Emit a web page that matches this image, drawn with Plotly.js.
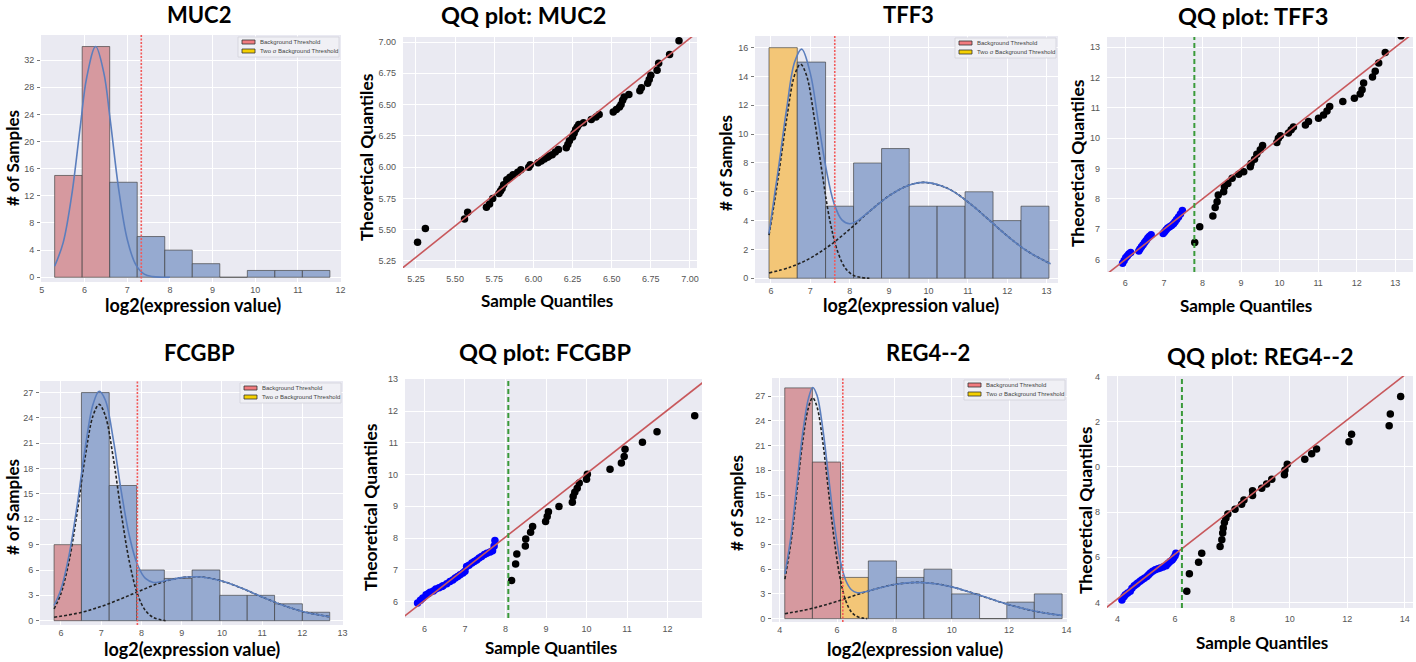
<!DOCTYPE html>
<html><head><meta charset="utf-8">
<script src="https://cdn.plot.ly/plotly-3.0.1.min.js"></script>
<style>html,body{margin:0;padding:0;background:#fff}#chart{width:1416px;height:662px}</style>
</head><body><div id="chart"></div>
<script>
// ---------------- DATA ----------------
// MUC2 histogram
const mucEdges=[5.30,5.945,6.59,7.235,7.88,8.525,9.17,9.815,10.46,11.105,11.75];
const mucCounts=[15,34,14,6,4,2,0,1,1,1];
const mucBins=['bg','bg','other','other','other','other','other','other','other','other'];
const mucThreshold=7.33;
const mucFitX=[5.30,5.5,5.7,5.9,6.05,6.26,6.45,6.6,6.8,7.0,7.2,7.4,7.6,7.8,8.0];
const mucFitY=[1.64,5.1,12.1,22.2,29.4,34.0,30.2,23.3,13.0,5.6,1.87,0.47,0.09,0.01,0.0];
// MUC2 QQ
const mucQQx=[5.26,5.31,5.56,5.58,5.70,5.72,5.74,5.78,5.79,5.80,5.81,5.83,5.85,5.87,5.90,5.92,5.97,5.98,6.03,6.05,6.07,6.09,6.10,6.12,6.14,6.16,6.21,6.22,6.23,6.25,6.26,6.27,6.28,6.29,6.32,6.37,6.40,6.42,6.51,6.53,6.55,6.56,6.57,6.58,6.61,6.68,6.69,6.73,6.74,6.75,6.79,6.80,6.87,6.93];
const mucQQy=[5.40,5.51,5.585,5.64,5.68,5.705,5.75,5.79,5.81,5.83,5.86,5.90,5.92,5.94,5.96,5.98,6.00,6.02,6.035,6.05,6.065,6.08,6.09,6.10,6.12,6.14,6.155,6.18,6.21,6.24,6.27,6.30,6.32,6.34,6.355,6.38,6.40,6.42,6.44,6.46,6.48,6.50,6.535,6.56,6.58,6.61,6.635,6.67,6.70,6.735,6.775,6.83,6.90,7.01];
const mucLineX=[5.1,7.1], mucLineY=[5.13,7.13];

// TFF3 histogram
const tffEdges=[5.95,6.668,7.387,8.098,8.809,9.511,10.22,10.93,11.64,12.35,13.06];
const tffCounts=[16,15,5,8,9,5,5,6,4,5];
const tffBins=['two','other','other','other','other','other','other','other','other','other'];
const tffThreshold=7.62;
const tffFitX=[5.95,6.1,6.2,6.4,6.6,6.78,7.0,7.2,7.4,7.6,7.8,8.0,8.2,8.5,9.0,9.5,9.9,10.5,11.0,11.5,12.0,12.5,13.1];
const tffFitY=[3.1,5.96,7.83,11.8,15.0,15.9,14.2,10.9,7.6,5.2,4.05,3.78,4.0,4.64,5.72,6.45,6.65,6.22,5.3,4.14,2.94,1.9,1.0];
const tffComp1X=[5.95,6.1,6.2,6.4,6.6,6.75,6.9,7.1,7.3,7.5,7.7,7.9,8.1,8.3,8.5];
const tffComp1Y=[3.0,5.5,7.3,11.1,14.1,14.85,14.1,11.1,7.3,3.95,1.8,0.66,0.2,0.05,0.0];
const tffComp2X=[5.95,6.5,7.0,7.5,8.0,8.5,9.0,9.5,9.9,10.5,11.0,11.5,12.0,12.5,13.1];
const tffComp2Y=[0.37,0.78,1.4,2.29,3.4,4.63,5.72,6.45,6.65,6.22,5.3,4.14,2.94,1.9,1.0];
// TFF3 QQ
const tffBlueX=[5.93,5.97,6.01,6.05,6.09,6.14,6.35,6.38,6.42,6.46,6.50,6.54,6.58,6.62,6.67,6.98,7.02,7.06,7.10,7.15,7.20,7.25,7.29,7.33,7.38,7.43,7.48];
const tffBlueY=[5.88,5.97,6.06,6.12,6.18,6.23,6.28,6.35,6.42,6.49,6.56,6.63,6.70,6.76,6.82,6.86,6.92,6.98,7.04,7.08,7.12,7.18,7.25,7.32,7.40,7.50,7.62];
const tffBlackX=[7.80,7.93,8.27,8.33,8.38,8.41,8.55,8.57,8.66,8.77,8.94,9.07,9.24,9.26,9.35,9.41,9.50,9.56,9.93,9.97,10.02,10.23,10.30,10.36,10.67,10.75,11.01,11.14,11.23,11.30,11.64,11.94,12.09,12.14,12.18,12.41,12.48,12.57,12.74,13.15];
const tffBlackY=[6.56,7.08,7.44,7.72,7.91,8.13,8.24,8.40,8.51,8.68,8.81,8.90,9.06,9.17,9.31,9.47,9.62,9.76,9.86,10.00,10.08,10.17,10.28,10.37,10.44,10.55,10.66,10.77,10.90,11.05,11.21,11.32,11.46,11.60,11.82,12.02,12.21,12.48,12.83,13.38];
const tffLineX=[5.5,13.5], tffLineY=[5.5,13.5];
const tffQThreshold=7.79;

// FCGBP histogram
const fcgEdges=[5.83,6.51,7.20,7.88,8.57,9.26,9.95,10.63,11.31,12.0,12.68];
const fcgCounts=[9,27,16,6,5,6,3,3,2,1];
const fcgBins=['bg','other','other','other','other','other','other','other','other','other'];
const fcgThreshold=7.90;
const fcgFitX=[5.83,6.0,6.2,6.4,6.6,6.8,6.95,7.1,7.3,7.5,7.7,7.9,8.1,8.3,8.5,9.0,9.3,9.5,10.0,10.5,11.0,11.5,12.0,12.68];
const fcgFitY=[1.8,3.7,7.7,13.55,20.35,25.65,27.15,26.15,21.5,15.3,10.05,6.65,5.0,4.53,4.64,5.1,5.2,5.18,4.69,3.83,2.81,1.86,1.1,0.46];
const fcgComp1X=[5.83,6.0,6.2,6.4,6.6,6.8,6.95,7.1,7.3,7.5,7.7,7.9,8.1,8.3,8.6];
const fcgComp1Y=[1.4,3.2,7.0,12.7,19.3,24.3,25.6,24.3,19.3,12.7,7.0,3.2,1.2,0.38,0.0];
const fcgComp2X=[5.83,6.5,7.0,7.5,8.0,8.5,9.0,9.3,9.5,10.0,10.5,11.0,11.5,12.0,12.68];
const fcgComp2Y=[0.4,0.98,1.69,2.6,3.6,4.54,5.1,5.2,5.18,4.69,3.83,2.81,1.86,1.1,0.46];
// FCGBP QQ
const fcgBlueX=[5.83,5.90,5.96,6.04,6.10,6.14,6.22,6.28,6.36,6.43,6.46,6.55,6.63,6.70,6.76,6.82,6.88,6.95,7.00,7.04,7.10,7.17,7.23,7.29,7.35,7.41,7.48,7.54,7.62,7.68,7.72,7.74];
const fcgBlueY=[5.95,6.04,6.11,6.21,6.25,6.29,6.33,6.39,6.43,6.47,6.50,6.56,6.63,6.68,6.74,6.79,6.84,6.90,6.95,7.10,7.14,7.21,7.26,7.31,7.37,7.42,7.48,7.52,7.56,7.60,7.75,7.92];
const fcgBlackX=[8.15,8.25,8.28,8.49,8.50,8.62,8.67,8.99,9.03,9.06,9.32,9.65,9.67,9.71,9.77,9.82,10.00,10.02,10.58,10.86,10.93,10.95,11.38,11.74,12.67];
const fcgBlackY=[6.66,7.18,7.50,7.75,7.97,8.18,8.36,8.52,8.68,8.83,8.99,9.13,9.31,9.44,9.57,9.73,9.85,10.01,10.17,10.36,10.57,10.80,11.02,11.35,11.85];
const fcgLineX=[5.4,13.0], fcgLineY=[5.43,13.03];
const fcgQThreshold=8.07;

// REG4--2 histogram
const regEdges=[4.175,5.14,6.12,7.09,8.07,9.03,10.0,10.97,11.92,12.88,13.85];
const regCounts=[28,19,5,7,5,6,3,0,2,3];
const regBins=['bg','bg','two','other','other','other','other','other','other','other'];
const regThreshold=6.20;
const regFitX=[4.18,4.4,4.6,4.8,5.0,5.15,5.3,5.5,5.7,5.9,6.1,6.3,6.5,6.7,6.9,7.5,8.0,8.8,9.5,10.0,10.5,11.0,11.5,12.0,12.5,13.0,13.5,13.85];
const regFitY=[5.4,10.2,16.35,22.5,26.7,28.05,27.1,23.1,17.3,11.6,7.2,4.65,3.5,3.15,3.2,3.75,4.14,4.4,4.2,3.85,3.36,2.8,2.22,1.68,1.22,0.84,0.55,0.4];
const regComp1X=[4.18,4.4,4.6,4.8,5.0,5.15,5.3,5.5,5.7,5.9,6.1,6.3,6.5,6.7,6.9,7.05];
const regComp1Y=[4.8,9.5,15.5,21.5,25.6,26.8,25.7,21.5,15.5,9.6,5.0,2.2,0.8,0.25,0.06,0.0];
const regComp2X=[4.18,5.0,5.5,6.0,6.5,7.0,7.5,8.0,8.8,9.5,10.0,10.5,11.0,11.5,12.0,12.5,13.0,13.5,13.85];
const regComp2Y=[0.6,1.13,1.58,2.1,2.68,3.25,3.75,4.14,4.4,4.2,3.85,3.36,2.8,2.22,1.68,1.22,0.84,0.55,0.4];
// REG4--2 QQ
const regBlueX=[4.15,4.22,4.27,4.35,4.44,4.50,4.58,4.65,4.70,4.78,4.85,4.93,5.02,5.08,5.14,5.22,5.31,5.40,5.48,5.58,5.69,5.76,5.83,5.90,5.95,6.00,6.03];
const regBlueY=[4.10,4.25,4.34,4.42,4.49,4.62,4.74,4.80,4.86,4.93,5.00,5.07,5.15,5.22,5.30,5.38,5.45,5.49,5.52,5.57,5.62,5.72,5.81,5.88,5.96,6.06,6.18];
const regBlackX=[6.41,6.50,6.82,6.93,7.57,7.63,7.66,7.68,7.72,7.77,7.84,8.09,8.32,8.40,8.70,8.70,9.02,9.19,9.37,9.81,9.83,9.91,10.52,10.76,10.93,12.06,12.15,13.46,13.50,13.86];
const regBlackY=[4.49,5.27,5.78,6.18,6.48,6.77,7.07,7.29,7.54,7.73,7.92,8.13,8.35,8.54,8.73,8.94,9.06,9.24,9.46,9.65,9.87,10.12,10.34,10.58,10.80,11.12,11.45,11.83,12.35,13.12];
const regLineX=[3.5,14.3], regLineY=[3.66,14.37];
const regQThreshold=6.24;
const regQYTickVals=[4,6,8,10,12,14];
const regQYTickText=['4','6','8','0','2','4'];

const legendLabels=['Background Threshold','Two \u03c3 Background Threshold'];

// ---------------- LAYOUT HELPERS ----------------
const W=1416,H=662;
const fx=p=>p/W, fy=p=>1-p/H;
const boxes={
  muc:{l:41,r:341,t:35,b:282}, mucQ:{l:403,r:697,t:37,b:268},
  tff:{l:755,r:1058,t:36,b:283}, tffQ:{l:1107,r:1413,t:37,b:272},
  fcg:{l:40,r:343,t:381,b:625}, fcgQ:{l:405,r:702,t:379,b:618},
  reg:{l:772,r:1067,t:378,b:622}, regQ:{l:1107,r:1413,t:376,b:608}
};
const tickFont={family:'Liberation Sans, Arial, sans-serif',size:9,color:'#555'};
const layout={width:W,height:H,margin:{l:0,r:0,t:0,b:0},paper_bgcolor:'#ffffff',plot_bgcolor:'#EAEAF2',
  barmode:'overlay',showlegend:false,shapes:[],annotations:[]};
const traces=[];

function setAxes(n,key,xr,yr,xopt,yopt,hist){
  const b=boxes[key], s=n===1?'':String(n);
  layout['xaxis'+s]=Object.assign({domain:[fx(b.l),fx(b.r)],range:xr,anchor:'y'+s,showgrid:true,gridcolor:'#ffffff',gridwidth:1,
    zeroline:false,showline:false,tickfont:tickFont,ticks:'',ticklabelstandoff:hist?1:4,fixedrange:true},xopt);
  layout['yaxis'+s]=Object.assign({domain:[fy(b.b),fy(b.t)],range:yr,anchor:'x'+s,showgrid:true,gridcolor:'#ffffff',gridwidth:1,
    zeroline:false,showline:false,tickfont:tickFont,fixedrange:true,
    ticks:hist?'outside':'',ticklen:3,tickcolor:'#777',ticklabelstandoff:hist?1:6},yopt);
}
const binColors={bg:'#D6999F',two:'#F3C677',other:'#96AAD0'};
function hist(n,edges,counts,classes,thr,fitX,fitY,c1x,c1y,c2x,c2y){
  const s=n===1?'':String(n);
  ['bg','two','other'].forEach(c=>{
    const xs=[],ys=[],ws=[];
    counts.forEach((v,i)=>{ if(classes[i]===c){xs.push(edges[i]);ys.push(v);ws.push(edges[i+1]-edges[i]);} });
    if(xs.length) traces.push({type:'bar',x:xs,y:ys,width:ws,offset:0,xaxis:'x'+s,yaxis:'y'+s,
      marker:{color:binColors[c],line:{color:'rgba(60,60,60,0.65)',width:1}},hoverinfo:'skip'});
  });
  const dash={color:'#222',width:1.6,dash:'3px,2px',shape:'spline',smoothing:1};
  if(c2x) traces.push({type:'scatter',mode:'lines',x:c2x,y:c2y,xaxis:'x'+s,yaxis:'y'+s,line:dash,hoverinfo:'skip'});
  if(c1x) traces.push({type:'scatter',mode:'lines',x:c1x,y:c1y,xaxis:'x'+s,yaxis:'y'+s,line:dash,hoverinfo:'skip'});
  traces.push({type:'scatter',mode:'lines',x:fitX,y:fitY,xaxis:'x'+s,yaxis:'y'+s,
    line:{color:'#5B7EBD',width:1.6,shape:'spline',smoothing:1},hoverinfo:'skip'});
  layout.shapes.push({type:'line',xref:'x'+s,yref:'y'+s+' domain',x0:thr,x1:thr,y0:0,y1:1,
    line:{color:'#F25A5A',width:1.6,dash:'2px,1.5px'}});
}
function qq(n,bx,by,kx,ky,lx,ly,thr){
  const s=n===1?'':String(n);
  traces.push({type:'scatter',mode:'markers',x:kx,y:ky,xaxis:'x'+s,yaxis:'y'+s,marker:{color:'#000',size:7.5},hoverinfo:'skip'});
  if(bx) traces.push({type:'scatter',mode:'markers',x:bx,y:by,xaxis:'x'+s,yaxis:'y'+s,marker:{color:'#0000FF',size:7.5},hoverinfo:'skip'});
  traces.push({type:'scatter',mode:'lines',x:lx,y:ly,xaxis:'x'+s,yaxis:'y'+s,line:{color:'#C8585C',width:1.6},hoverinfo:'skip'});
  if(thr!==undefined) layout.shapes.push({type:'line',xref:'x'+s,yref:'y'+s+' domain',x0:thr,x1:thr,y0:0,y1:1,
    line:{color:'#3A9A3A',width:2,dash:'5px,3px'}});
}
function legendBox(key){
  const b=boxes[key];
  layout.shapes.push({type:'rect',xref:'paper',yref:'paper',x0:fx(b.r-103),x1:fx(b.r-2),y0:fy(b.t+22),y1:fy(b.t+2),
    fillcolor:'#F0F0F5',line:{color:'#D2D2DA',width:0.8}});
  const patch=[['#F27B7F',7],['#F5D000',16]];
  patch.forEach((p,i)=>{
    layout.shapes.push({type:'rect',xref:'paper',yref:'paper',x0:fx(b.r-99),x1:fx(b.r-86),y0:fy(b.t+p[1]+2),y1:fy(b.t+p[1]-2),
      fillcolor:p[0],line:{color:'#333',width:0.8}});
    layout.annotations.push({xref:'paper',yref:'paper',x:fx(b.r-83),y:fy(b.t+p[1]),text:legendLabels[i],showarrow:false,
      xanchor:'left',yanchor:'middle',font:{family:'Liberation Sans, Arial, sans-serif',size:6,color:'#444'}});
  });
}
const fam='Lato, "Open Sans", sans-serif';
const geneTitleFont={family:fam,size:22,color:'#000',weight:'bold'};
const qqTitleFont={family:fam,size:23.5,color:'#000',weight:'bold'};
const axTitleFont={family:fam,size:17,color:'#000',weight:'bold'};
const qyTitleFont={family:fam,size:17.5,color:'#000',weight:'bold'};
const histXTitleFont={family:fam,size:18,color:'#000',weight:'bold'};
function txt(t,x,y,font,angle){
  layout.annotations.push({xref:'paper',yref:'paper',x:fx(x),y:fy(y),text:'<b>'+t+'</b>',showarrow:false,
    xanchor:'center',yanchor:'middle',font:font,textangle:angle||0});
}

// ---------------- BUILD ----------------
setAxes(1,'muc',[4.98,12.01],[-0.7,35.7],{tick0:5,dtick:1},{tick0:0,dtick:4},true);
hist(1,mucEdges,mucCounts,mucBins,mucThreshold,mucFitX,mucFitY);
setAxes(2,'mucQ',[5.167,7.045],[5.194,7.04],{tick0:5.25,dtick:0.25,tickformat:'.2f'},{tick0:5.25,dtick:0.25,tickformat:'.2f'},false);
qq(2,null,null,mucQQx,mucQQy,mucLineX,mucLineY);
setAxes(3,'tff',[5.594,13.29],[-0.33,16.81],{tick0:6,dtick:1},{tick0:0,dtick:2},true);
hist(3,tffEdges,tffCounts,tffBins,tffThreshold,tffFitX,tffFitY,tffComp1X,tffComp1Y,tffComp2X,tffComp2Y);
setAxes(4,'tffQ',[5.525,13.46],[5.59,13.34],{tick0:6,dtick:1},{tick0:6,dtick:1},false);
qq(4,tffBlueX,tffBlueY,tffBlackX,tffBlackY,tffLineX,tffLineY,tffQThreshold);
setAxes(5,'fcg',[5.48,13.01],[-0.51,28.37],{tick0:6,dtick:1},{tick0:0,dtick:3},true);
hist(5,fcgEdges,fcgCounts,fcgBins,fcgThreshold,fcgFitX,fcgFitY,fcgComp1X,fcgComp1Y,fcgComp2X,fcgComp2Y);
setAxes(6,'fcgQ',[5.52,12.85],[5.48,13.01],{tick0:6,dtick:1},{tick0:6,dtick:1},false);
qq(6,fcgBlueX,fcgBlueY,fcgBlackX,fcgBlackY,fcgLineX,fcgLineY,fcgQThreshold);
setAxes(7,'reg',[3.73,14.02],[-0.41,29.2],{tick0:4,dtick:2},{tick0:0,dtick:3},true);
hist(7,regEdges,regCounts,regBins,regThreshold,regFitX,regFitY,regComp1X,regComp1Y,regComp2X,regComp2Y);
setAxes(8,'regQ',[3.63,14.29],[3.75,14.03],{tick0:4,dtick:2},{tickmode:'array',tickvals:regQYTickVals,ticktext:regQYTickText},false);
qq(8,regBlueX,regBlueY,regBlackX,regBlackY,regLineX,regLineY,regQThreshold);

['muc','tff','fcg','reg'].forEach(legendBox);

// titles
txt('MUC2',199,14,geneTitleFont); txt('QQ plot: MUC2',523,15,qqTitleFont);
txt('TFF3',908,14,geneTitleFont); txt('QQ plot: TFF3',1253,16,qqTitleFont);
txt('FCGBP',199,353,geneTitleFont); txt('QQ plot: FCGBP',545,352,qqTitleFont);
txt('REG4--2',928,353,geneTitleFont); txt('QQ plot: REG4--2',1260,356,qqTitleFont);
// axis titles
const xl='log2(expression value)', yl='# of Samples', qx='Sample Quantiles', qy='Theoretical Quantiles';
txt(xl,193,305,histXTitleFont); txt(qx,547,300,axTitleFont); txt(xl,911,305,histXTitleFont); txt(qx,1246,305,axTitleFont);
txt(xl,192,649,histXTitleFont); txt(qx,551,647,axTitleFont); txt(xl,915,649,histXTitleFont); txt(qx,1262,642,axTitleFont);
txt(yl,12,158,axTitleFont,-90); txt(qy,367,157,qyTitleFont,-90); txt(yl,725,163,axTitleFont,-90); txt(qy,1077,163,qyTitleFont,-90);
txt(yl,12,507,axTitleFont,-90); txt(qy,370,507,qyTitleFont,-90); txt(yl,737,503,axTitleFont,-90); txt(qy,1085,510,qyTitleFont,-90);

Plotly.newPlot('chart',traces,layout,{displayModeBar:false,staticPlot:true});
</script></body></html>
